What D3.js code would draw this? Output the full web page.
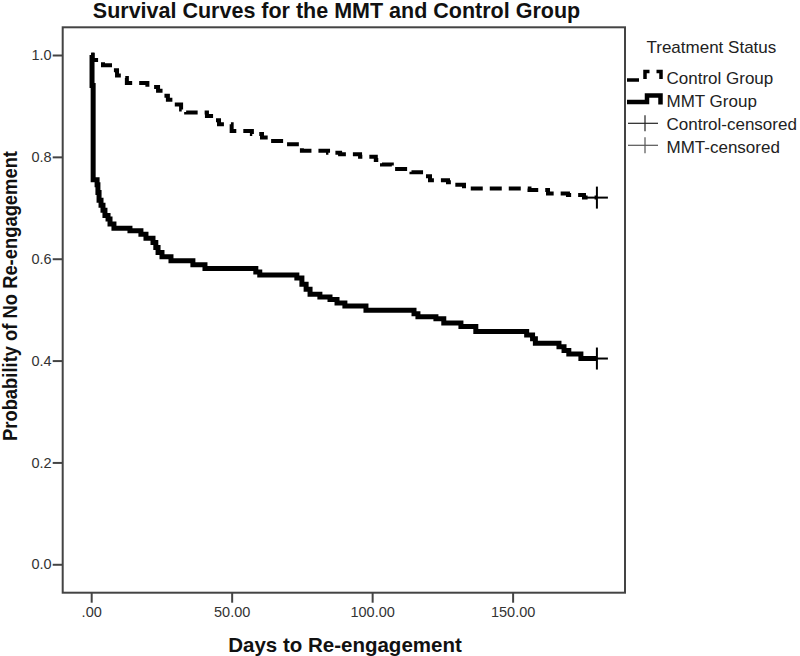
<!DOCTYPE html>
<html>
<head>
<meta charset="utf-8">
<script src="https://cdn.jsdelivr.net/npm/d3@7"></script>
<style>
  html, body { margin: 0; padding: 0; background: #fff; }
  svg { display: block; }
  text { font-family: Arial, "Liberation Sans", sans-serif; }
</style>
</head>
<body>
<svg id="chart" width="800" height="656"></svg>
<script>
// ---------- data ----------
const controlTimes = [0, 0.5, 4.2, 6.7, 9.2, 11, 12.7, 20, 23.8, 25.6, 27.3, 29.5, 32, 33.8, 41.2, 43.7, 45.5, 50, 57.2, 60.8, 62.9, 69.7, 73.2, 75, 84.3, 88.6, 95.7, 101.3, 103.5, 107, 114, 118.8, 120.6, 127, 129.5, 132.7, 156, 162.6, 169.7, 175.4, 180];
const controlSurv  = [1.0, 0.99, 0.98, 0.97, 0.96, 0.955, 0.945, 0.937, 0.93, 0.92, 0.912, 0.903, 0.893, 0.887, 0.88, 0.872, 0.864, 0.851, 0.845, 0.838, 0.831, 0.825, 0.818, 0.812, 0.808, 0.805, 0.80, 0.794, 0.785, 0.776, 0.77, 0.762, 0.754, 0.75, 0.745, 0.738, 0.735, 0.728, 0.725, 0.72, 0.72];

const mmtTimes = [0, 0.3, 0.7, 2.1, 2.4, 2.8, 3.5, 4.2, 4.9, 6, 6.7, 8.1, 13.8, 17.7, 19.5, 22, 23, 23.8, 25.2, 28.4, 36.2, 40.5, 58.6, 60, 73.2, 75, 76.5, 77.9, 81.4, 85, 87.5, 90.3, 97.8, 114.9, 116.3, 122.7, 125.5, 131.6, 136.9, 155, 157.1, 158.1, 166.5, 168.3, 170, 174.3, 180];
const mmtSurv  = [1.0, 0.94, 0.755, 0.745, 0.73, 0.715, 0.705, 0.695, 0.685, 0.678, 0.668, 0.66, 0.655, 0.648, 0.64, 0.632, 0.622, 0.612, 0.604, 0.596, 0.588, 0.581, 0.574, 0.568, 0.562, 0.55, 0.54, 0.53, 0.525, 0.52, 0.513, 0.507, 0.499, 0.492, 0.486, 0.482, 0.474, 0.467, 0.457, 0.45, 0.443, 0.434, 0.427, 0.42, 0.413, 0.404, 0.404];

const censorTime = 180;
const censorControl = 0.72;
const censorMMT = 0.404;

const xTicks = [0, 50, 100, 150];
const xTickLabels = [".00", "50.00", "100.00", "150.00"];
const yTicks = [0, 0.2, 0.4, 0.6, 0.8, 1.0];
const yTickLabels = ["0.0", "0.2", "0.4", "0.6", "0.8", "1.0"];

const seriesNames = ["Control Group", "MMT Group", "Control-censored", "MMT-censored"];
const chartTitle = "Survival Curves for the MMT and Control Group";
const xTitle = "Days to Re-engagement";
const yTitle = "Probability of No Re-engagement";
const legendTitle = "Treatment Status";

// ---------- layout ----------
const svg = d3.select("#chart");
const plot = { left: 62.7, right: 625, top: 27.3, bottom: 592.7 };

const x = d3.scaleLinear().domain([-10.14, 190]).range([plot.left, plot.right]);
const y = d3.scaleLinear().domain([-0.0558, 1.0544]).range([plot.bottom, plot.top]);

const frameColor = "#444";

// frame
svg.append("rect")
  .attr("x", plot.left).attr("y", plot.top)
  .attr("width", plot.right - plot.left).attr("height", plot.bottom - plot.top)
  .attr("fill", "none").attr("stroke", frameColor).attr("stroke-width", 2);

// axes
const xAxis = d3.axisBottom(x).tickValues(xTicks)
  .tickFormat((d, i) => xTickLabels[i]).tickSize(10).tickSizeOuter(0).tickPadding(4);
const gx = svg.append("g").attr("transform", `translate(0,${plot.bottom})`).call(xAxis);
gx.select(".domain").remove();
gx.selectAll(".tick line").attr("stroke", frameColor).attr("stroke-width", 2);
gx.selectAll(".tick text").attr("font-size", 14.5).attr("fill", "#333")
  .style("font-family", 'Arial, "Liberation Sans", sans-serif');

const yAxis = d3.axisLeft(y).tickValues(yTicks)
  .tickFormat((d, i) => yTickLabels[i]).tickSize(10).tickSizeOuter(0).tickPadding(1);
const gy = svg.append("g").attr("transform", `translate(${plot.left},0)`).call(yAxis);
gy.select(".domain").remove();
gy.selectAll(".tick line").attr("stroke", frameColor).attr("stroke-width", 2);
gy.selectAll(".tick text").attr("font-size", 14.5).attr("fill", "#333")
  .style("font-family", 'Arial, "Liberation Sans", sans-serif');

// titles
svg.append("text").attr("x", 336.5).attr("y", 17.5).attr("text-anchor", "middle")
  .attr("font-size", 21.5).attr("font-weight", "bold").attr("fill", "#111").text(chartTitle);
svg.append("text").attr("x", 345).attr("y", 651.5).attr("text-anchor", "middle")
  .attr("font-size", 20.5).attr("font-weight", "bold").attr("fill", "#111").text(xTitle);
svg.append("text").attr("transform", "translate(17,296) rotate(-90)").attr("text-anchor", "middle")
  .attr("font-size", 20).attr("font-weight", "bold").attr("fill", "#111")
  .attr("textLength", 290).attr("lengthAdjust", "spacingAndGlyphs").text(yTitle);

// curves
const line = d3.line().x(d => x(d[0])).y(d => y(d[1])).curve(d3.curveStepAfter);
const controlData = controlTimes.map((t, i) => [t, controlSurv[i]]);
const mmtData = mmtTimes.map((t, i) => [t, mmtSurv[i]]);

svg.append("path").datum(controlData).attr("d", line)
  .attr("fill", "none").attr("stroke", "#000").attr("stroke-width", 4)
  .attr("stroke-dasharray", "12,7");
svg.append("path").datum(mmtData).attr("d", line)
  .attr("fill", "none").attr("stroke", "#000").attr("stroke-width", 5)
  .attr("stroke-linejoin", "miter");

// censor marks
function plus(cx, cy, s, w, color) {
  svg.append("line").attr("x1", cx - s / 2).attr("x2", cx + s / 2).attr("y1", cy).attr("y2", cy)
    .attr("stroke", color).attr("stroke-width", w);
  svg.append("line").attr("x1", cx).attr("x2", cx).attr("y1", cy - s / 2).attr("y2", cy + s / 2)
    .attr("stroke", color).attr("stroke-width", w);
}
plus(x(censorTime), y(censorControl), 22, 2, "#000");
plus(x(censorTime), y(censorMMT), 22, 2, "#000");

// legend
const lg = svg.append("g");
lg.append("text").attr("x", 646.5).attr("y", 52.5).attr("font-size", 17).attr("fill", "#222").text(legendTitle);
const textX = 666.5;
const baselines = [84, 107, 130, 152.5];
seriesNames.forEach((n, i) => {
  lg.append("text").attr("x", textX).attr("y", baselines[i]).attr("font-size", 17).attr("fill", "#222").text(n);
});
// legend symbols
lg.append("path").attr("d", "M627,80 H645 V71.5 H661 V82")
  .attr("fill", "none").attr("stroke", "#000").attr("stroke-width", 3.5).attr("stroke-dasharray", "12,7");
lg.append("path").attr("d", "M627,102 H647 V95.5 H660.5 V104.5")
  .attr("fill", "none").attr("stroke", "#000").attr("stroke-width", 4.5);
function legCross(cy, color) {
  lg.append("line").attr("x1", 628).attr("x2", 658).attr("y1", cy).attr("y2", cy).attr("stroke", color).attr("stroke-width", 1.2);
  lg.append("line").attr("x1", 645).attr("x2", 645).attr("y1", cy - 8).attr("y2", cy + 8).attr("stroke", color).attr("stroke-width", 1.2);
}
legCross(123.3, "#222");
legCross(145.3, "#555");
</script>
</body>
</html>
